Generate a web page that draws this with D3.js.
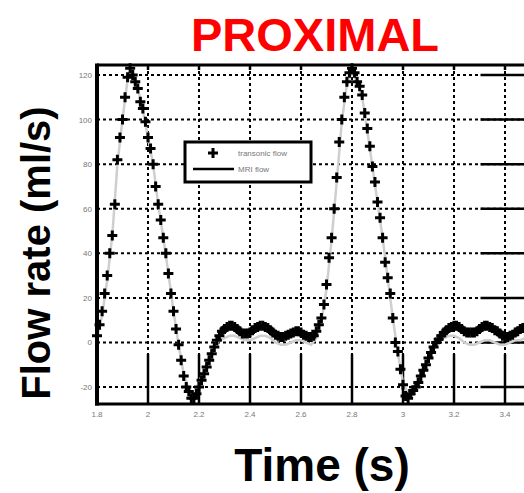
<!DOCTYPE html>
<html>
<head>
<meta charset="utf-8">
<script src="https://cdn.jsdelivr.net/npm/d3@7"></script>
<style>
  body { margin: 0; background: #fff; }
  svg { display: block; font-family: "Liberation Sans", Arial, sans-serif; }
</style>
</head>
<body>
<div id="chart-area"></div>
<script>
// transonic (marker) series, sampled every 10 ms
const time = [1.80,1.81,1.82,1.83,1.84,1.85,1.86,1.87,1.88,1.89,
  1.90,1.91,1.92,1.93,1.94,1.95,1.96,1.97,1.98,1.99,
  2.00,2.01,2.02,2.03,2.04,2.05,2.06,2.07,2.08,2.09,
  2.10,2.11,2.12,2.13,2.14,2.15,2.16,2.17,2.18,2.19,
  2.20,2.21,2.22,2.23,2.24,2.25,2.26,2.27,2.28,2.29,
  2.30,2.31,2.32,2.33,2.34,2.35,2.36,2.37,2.38,2.39,
  2.40,2.41,2.42,2.43,2.44,2.45,2.46,2.47,2.48,2.49,
  2.50,2.51,2.52,2.53,2.54,2.55,2.56,2.57,2.58,2.59,
  2.60,2.61,2.62,2.63,2.64,2.65,2.66,2.67,2.68,2.69,
  2.70,2.71,2.72,2.73,2.74,2.75,2.76,2.77,2.78,2.79,
  2.80,2.81,2.82,2.83,2.84,2.85,2.86,2.87,2.88,2.89,
  2.90,2.91,2.92,2.93,2.94,2.95,2.96,2.97,2.98,2.99,
  3.00,3.01,3.02,3.03,3.04,3.05,3.06,3.07,3.08,3.09,
  3.10,3.11,3.12,3.13,3.14,3.15,3.16,3.17,3.18,3.19,
  3.20,3.21,3.22,3.23,3.24,3.25,3.26,3.27,3.28,3.29,
  3.30,3.31,3.32,3.33,3.34,3.35,3.36,3.37,3.38,3.39,
  3.40,3.41,3.42,3.43,3.44,3.45,3.46,3.47,3.48];
const flow = [3,8,14,22,30,40,48,62,82,92,
  100,110,119,123,120,117,114,108,105,99,
  92,87,80,70,62,55,47,40,31,22,
  14,6,-1,-8,-15,-20,-22,-25,-25,-23,
  -20,-17,-14,-11,-8,-5,-2,1,3,5,
  6,7,7.5,7.5,7,6,5,4,4,4,
  4.5,5.5,6.5,7,7.5,7.5,7,6.5,5.5,4.5,
  3.5,3,2.5,2.5,3,3.5,4,4.5,5,5,
  4.5,3.5,3,2.5,2.5,3,5,8,11,17,
  26,38,47,60,74,90,100,110,117,121,
  123,121,117,115,111,103,96,88,79,72,
  63,56,47,36,29,22,11,0,-4,-12,
  -19,-24,-25,-23,-21.5,-20,-18,-15,-12.5,-10,
  -7,-4.5,-2,0,1.5,3,4.5,5.5,6.5,7,
  7.5,7.5,7,6,5,4.5,4.5,4.5,4.5,5,
  6,7,7.5,7.5,7,6.5,5.5,5,4,3,
  2.5,2.5,3,3.5,4.5,5,6,6.5,7];

// MRI series
const mriTime = [1.80,1.82,1.84,1.86,1.88,1.90,1.92,1.94,1.96,1.98,
  2.00,2.02,2.04,2.06,2.08,2.10,2.12,2.14,2.16,2.18,
  2.20,2.22,2.24,2.26,2.28,2.30,2.32,2.34,2.36,2.38,
  2.40,2.42,2.44,2.46,2.48,2.50,2.52,2.54,2.56,2.58,
  2.60,2.62,2.64,2.66,2.68,2.70,2.72,2.74,2.76,2.78,
  2.80,2.82,2.84,2.86,2.88,2.90,2.92,2.94,2.96,2.98,
  3.00,3.02,3.04,3.06,3.08,3.10,3.12,3.14,3.16,3.18,
  3.20,3.22,3.24,3.26,3.28,3.30,3.32,3.34,3.36,3.38,
  3.40,3.42,3.44,3.46,3.48];
const mriFlow = [2,12,28,48,80,100,118,121,114,104,
  92,80,62,47,31,14,-1,-14,-21,-23,
  -18,-12,-6,-2,1,2,3,3,2,1,
  1,2,3,3,2,0,-1,-1,0,1,
  1,0,-1,2,9,24,46,72,99,116,
  121,117,110,95,79,63,47,29,11,-5,
  -18,-23,-20,-16,-11,-6,-2,1,2,3,
  3,2,0,-1,-1,0,1,1,0,-1,
  -1,0,1,1,2];

const xTicks = [1.8, 2, 2.2, 2.4, 2.6, 2.8, 3, 3.2, 3.4];
const yTicks = [-20, 0, 20, 40, 60, 80, 100, 120];
const legendLabels = ["transonic flow", "MRI flow"];

const W = 524, H = 493;
const plot = { left: 97, top: 65, bottom: 404 };

const svg = d3.select('#chart-area')
  .append('svg')
  .attr('width', W)
  .attr('height', H);

const x = d3.scaleLinear().domain([1.8, 3.5]).range([plot.left, plot.left + 1.7 * 255]);
const y = d3.scaleLinear().domain([-27.6, 124.5]).range([plot.bottom, plot.top]);
const xRight = x.range()[1];

// dotted grid
svg.append('g').selectAll('line.gx')
  .data(xTicks.slice(1))
  .enter().append('line')
  .attr('x1', d => x(d)).attr('x2', d => x(d))
  .attr('y1', plot.top).attr('y2', plot.bottom)
  .attr('stroke', '#000').attr('stroke-width', 2)
  .attr('stroke-dasharray', '3,3');

svg.append('g').selectAll('line.gy')
  .data(yTicks)
  .enter().append('line')
  .attr('x1', plot.left).attr('x2', xRight)
  .attr('y1', d => y(d)).attr('y2', d => y(d))
  .attr('stroke', '#000').attr('stroke-width', 2)
  .attr('stroke-dasharray', '3,3');

// long inward ticks on bottom and right, short on top
svg.append('g').selectAll('line')
  .data(xTicks.slice(1))
  .enter().append('line')
  .attr('x1', d => x(d)).attr('x2', d => x(d))
  .attr('y1', plot.bottom - 50).attr('y2', plot.bottom)
  .attr('stroke', '#000').attr('stroke-width', 2.5);
svg.append('g').selectAll('line')
  .data(xTicks.slice(1))
  .enter().append('line')
  .attr('x1', d => x(d)).attr('x2', d => x(d))
  .attr('y1', plot.top).attr('y2', plot.top + 5)
  .attr('stroke', '#000').attr('stroke-width', 2.5);
svg.append('g').selectAll('line')
  .data(yTicks)
  .enter().append('line')
  .attr('x1', xRight - 50).attr('x2', xRight)
  .attr('y1', d => y(d)).attr('y2', d => y(d))
  .attr('stroke', '#000').attr('stroke-width', 2.5);

// MRI line
svg.append('path')
  .datum(mriTime.map((t, i) => [t, mriFlow[i]]))
  .attr('fill', 'none')
  .attr('stroke', '#cfcfcf')
  .attr('stroke-width', 2.5)
  .attr('d', d3.line().x(d => x(d[0])).y(d => y(d[1])));

// transonic markers
const plus = 'M-5,0H5M0,-5V5';
svg.append('g').selectAll('path')
  .data(time.map((t, i) => [t, flow[i]]))
  .enter().append('path')
  .attr('d', plus)
  .attr('transform', d => `translate(${x(d[0])},${y(d[1])})`)
  .attr('stroke', '#000')
  .attr('stroke-width', 3)
  .attr('fill', 'none');

// frame
svg.append('line')
  .attr('x1', plot.left).attr('x2', xRight)
  .attr('y1', plot.top).attr('y2', plot.top)
  .attr('stroke', '#000').attr('stroke-width', 3);
svg.append('line')
  .attr('x1', plot.left - 2).attr('x2', xRight)
  .attr('y1', plot.bottom).attr('y2', plot.bottom)
  .attr('stroke', '#000').attr('stroke-width', 3);
svg.append('line')
  .attr('x1', plot.left).attr('x2', plot.left)
  .attr('y1', plot.top - 1.5).attr('y2', plot.bottom + 1.5)
  .attr('stroke', '#000').attr('stroke-width', 4);

// tick labels
svg.append('g').selectAll('text')
  .data(yTicks)
  .enter().append('text')
  .attr('x', plot.left - 5)
  .attr('y', d => y(d) + 3)
  .attr('text-anchor', 'end')
  .attr('font-size', 8)
  .attr('fill', '#777')
  .text(d => d);
svg.append('g').selectAll('text')
  .data(xTicks)
  .enter().append('text')
  .attr('x', d => x(d))
  .attr('y', plot.bottom + 13)
  .attr('text-anchor', 'middle')
  .attr('font-size', 8)
  .attr('fill', '#777')
  .text(d => d);

// legend
const lg = svg.append('g');
lg.append('rect')
  .attr('x', 185).attr('y', 142)
  .attr('width', 126).attr('height', 40)
  .attr('fill', '#fff')
  .attr('stroke', '#000').attr('stroke-width', 3);
lg.append('path')
  .attr('d', plus)
  .attr('transform', 'translate(213,153)')
  .attr('stroke', '#000').attr('stroke-width', 3);
lg.append('line')
  .attr('x1', 193).attr('x2', 234)
  .attr('y1', 169).attr('y2', 169)
  .attr('stroke', '#000').attr('stroke-width', 2.5);
lg.selectAll('text')
  .data(legendLabels)
  .enter().append('text')
  .attr('x', 238)
  .attr('y', (d, i) => 156 + i * 16)
  .attr('font-size', 8)
  .attr('fill', '#777')
  .text(d => d);

// titles
svg.append('text')
  .attr('x', 315).attr('y', 51)
  .attr('text-anchor', 'middle')
  .attr('font-size', 47)
  .attr('font-weight', 'bold')
  .attr('fill', '#ff0000')
  .text('PROXIMAL');

svg.append('text')
  .attr('transform', 'translate(50,253) rotate(-90)')
  .attr('text-anchor', 'middle')
  .attr('font-size', 40)
  .attr('font-weight', 'bold')
  .attr('fill', '#000')
  .text('Flow rate (ml/s)');

svg.append('text')
  .attr('x', 322).attr('y', 481)
  .attr('text-anchor', 'middle')
  .attr('font-size', 46)
  .attr('font-weight', 'bold')
  .attr('fill', '#000')
  .text('Time (s)');
</script>
</body>
</html>
